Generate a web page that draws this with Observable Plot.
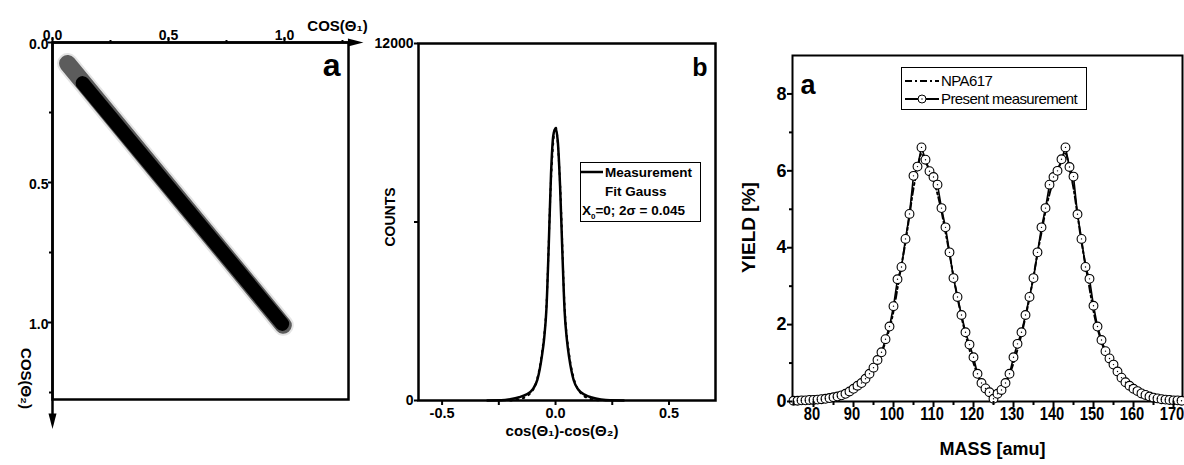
<!DOCTYPE html>
<html><head><meta charset="utf-8">
<script src="https://cdn.jsdelivr.net/npm/d3@7"></script>
<script src="https://cdn.jsdelivr.net/npm/@observablehq/plot@0.6"></script>
<style>
body{margin:0;background:#fff;}
#root{position:relative;width:1184px;height:465px;overflow:hidden;background:#fff;font-family:"Liberation Sans",Arial,sans-serif;}
.panel{position:absolute;top:0;}
.leg{position:absolute;border:1px solid #000;background:#fff;box-sizing:border-box;color:#000;}
.leg span{position:absolute;white-space:nowrap;line-height:1;}
.leg svg{position:absolute;}
</style></head>
<body><div id="root"></div>
<script>
// ---------- Panel a (scatter cos1 vs cos2) ----------
const bandOuterC1 = [0.065, 0.995];
const bandOuterC2 = [0.075, 1.010];
const bandCoreC1 = [0.13, 0.99];
const bandCoreC2 = [0.145, 1.005];
const aTicks = [0, 0.5, 1.0];
const aMinor = [0.25, 0.75, 1.25];
const aAxisEnd = {x: 1.306, y: 1.352};

// ---------- Panel b (difference histogram) ----------
const diffX = [-0.30,-0.24,-0.20,-0.16,-0.13,-0.10,-0.08,-0.06,-0.05,-0.04,-0.03,-0.02,-0.01,0.00,0.01,0.02,0.03,0.04,0.05,0.06,0.08,0.10,0.13,0.16,0.20,0.24,0.30];
const countsMeas = [0,5,40,110,200,380,700,1500,2100,3100,5200,7600,8900,9150,8700,7200,5000,3000,2050,1450,680,370,190,100,35,5,0];
const fitX = [-0.20,-0.15,-0.10,-0.08,-0.06,-0.04,-0.02,0.00,0.02,0.04,0.06,0.08,0.10,0.15,0.20];
const countsFit = [0,60,350,760,1600,3200,7400,9200,7300,3150,1550,760,360,60,0];
const bXTicks = [-0.5, 0, 0.5];
const bXMinor = [-0.25, 0.25];
const bYTicks = [0, 12000];
const bYMinor = [6000];

// ---------- Panel c (mass yield) ----------
const massPresent = [75,76,77,78,79,80,81,82,83,84,85,86,87,88,89,90,91,92,93,94,95,96,97,98,99,100,101,102,103,104,105,106,107,108,109,110,111,112,113,114,115,116,117,118,119,120,121,122,123,124,125,126,127,128,129,130,131,132,133,134,135,136,137,138,139,140,141,142,143,144,145,146,147,148,149,150,151,152,153,154,155,156,157,158,159,160,161,162,163,164,165,166,167,168,169,170,171,172];
const yieldPresent = [0.02,0.02,0.03,0.03,0.04,0.04,0.05,0.06,0.07,0.09,0.11,0.13,0.16,0.20,0.26,0.33,0.41,0.48,0.59,0.72,0.88,1.08,1.28,1.62,1.95,2.48,3.18,3.50,4.23,4.88,5.87,6.11,6.61,6.29,5.99,5.84,5.64,5.03,4.53,3.88,3.21,2.72,2.25,1.80,1.48,1.15,0.72,0.48,0.34,0.24,0.07,0.20,0.30,0.48,0.72,1.15,1.50,1.80,2.25,2.72,3.21,3.88,4.53,5.03,5.64,5.84,6.00,6.30,6.61,6.10,5.85,4.87,4.23,3.50,3.19,2.49,1.95,1.60,1.31,1.12,0.96,0.78,0.62,0.50,0.41,0.33,0.27,0.21,0.17,0.13,0.10,0.08,0.06,0.05,0.04,0.03,0.03,0.02];
const massNPA = [75,80,85,88,90,92,94,96,98,100,101,102,103,104,105,106,107,108,109,110,111,112,113,114,115,116,117,118,119,120,121,122,123,124,125,126,127,128,129,130,131,132,133,134,135,136,137,138,139,140,141,142,143,144,145,146,147,148,149,150,152,154,156,158,160,162,165,170,172];
const yieldNPA = [0.01,0.03,0.09,0.18,0.30,0.47,0.70,1.05,1.55,2.35,2.95,3.55,4.15,4.85,5.55,6.05,6.45,6.25,6.00,5.75,5.40,4.95,4.40,3.85,3.25,2.70,2.20,1.75,1.35,1.00,0.70,0.45,0.30,0.20,0.15,0.20,0.30,0.45,0.70,1.00,1.35,1.75,2.20,2.70,3.25,3.85,4.40,4.95,5.40,5.75,6.00,6.25,6.45,6.05,5.55,4.85,4.15,3.55,2.95,2.35,1.55,1.05,0.70,0.47,0.30,0.18,0.09,0.03,0.01];
const cXTicks = [80,90,100,110,120,130,140,150,160,170];
const cXMinor = [75,85,95,105,115,125,135,145,155,165];
const cYTicks = [0,2,4,6,8];
const cYMinor = [1,3,5,7];

const root = document.getElementById("root");
function place(svg, left){ const d=document.createElement("div"); d.className="panel"; d.style.left=left+"px"; d.appendChild(svg); root.appendChild(d); }

const arrowSym = {draw(ctx){ ctx.moveTo(0,-8); ctx.lineTo(4,7.5); ctx.lineTo(-4,7.5); ctx.closePath(); }};
const fmt1 = d => d.toFixed(1);
const none = () => "";
const baseFont = '"Liberation Sans",Arial,sans-serif';
const B = "bold";
const st = {fontFamily: baseFont, fontSize: "13px", background: "transparent", overflow: "visible", color: "#000"};

// horizontally condense the text elements of a rendered text-mark group
function condense(group, k){
  if (!group) return;
  group.querySelectorAll("text").forEach(t => {
    const tr = t.getAttribute("transform");
    if (tr) { t.setAttribute("transform", tr + ` scale(${k},1)`); }
    else {
      const x = +(t.getAttribute("x") || 0), y = +(t.getAttribute("y") || 0);
      t.removeAttribute("x"); t.removeAttribute("y");
      t.setAttribute("transform", `translate(${x},${y}) scale(${k},1)`);
    }
  });
}

// ---- Panel a
const outerA = bandOuterC1.map((c,i)=>({c1:c, c2:bandOuterC2[i]}));
const coreA = bandCoreC1.map((c,i)=>({c1:c, c2:bandCoreC2[i]}));
const svgA = Plot.plot({
  width: 375, height: 465, marginLeft: 52, marginRight: 27, marginTop: 42, marginBottom: 66,
  style: st,
  x: {domain: [0, 1.276]},
  y: {domain: [0, 1.275], reverse: true},
  marks: [
    Plot.line(outerA, {x:"c1", y:"c2", stroke:"#777", strokeWidth:21, strokeOpacity:0.2, strokeLinecap:"round"}),
    Plot.line(outerA, {x:"c1", y:"c2", stroke:"#222", strokeWidth:17, strokeOpacity:0.7, strokeLinecap:"round"}),
    Plot.line(coreA, {x:"c1", y:"c2", stroke:"#000", strokeWidth:14, strokeLinecap:"round"}),
    Plot.frame({strokeWidth: 2.5}),
    Plot.ruleY([0], {x1: 0, x2: aAxisEnd.x, strokeWidth: 2.5}),
    Plot.ruleX([0], {y1: 0, y2: aAxisEnd.y, strokeWidth: 2.5}),
    Plot.dot([aAxisEnd], {x: "x", y: () => 0, symbol: arrowSym, rotate: 90, fill: "#000", stroke: null}),
    Plot.dot([aAxisEnd], {x: () => 0, y: "y", symbol: arrowSym, rotate: 180, fill: "#000", stroke: null}),
    Plot.axisX({anchor: "top", ticks: aTicks, tickFormat: none, tickSize: 6, strokeWidth: 2, label: null}),
    Plot.axisX({anchor: "top", ticks: aMinor, tickFormat: none, tickSize: 3, strokeWidth: 2, label: null}),
    Plot.axisY({anchor: "left", ticks: aTicks, tickFormat: none, tickSize: 4, strokeWidth: 2, label: null}),
    Plot.axisY({anchor: "left", ticks: aMinor, tickFormat: none, tickSize: 3, strokeWidth: 2, label: null}),
    Plot.text(aTicks, {x: d => d, frameAnchor: "top", dy: -12, text: fmt1, fontSize: 14, fontWeight: B}),
    Plot.text(aTicks, {y: d => d, frameAnchor: "left", textAnchor: "end", dx: -4, dy: 2, text: fmt1, fontSize: 14, fontWeight: B}),
    Plot.text(["COS(Θ₁)"], {frameAnchor: "top-right", textAnchor: "middle", text: d => d, dx: -11, dy: -22, fontSize: 15, fontWeight: B}),
    Plot.text(["COS(Θ₂)"], {frameAnchor: "bottom-left", textAnchor: "middle", text: d => d, dx: -32, dy: -21, rotate: 90, fontSize: 15, fontWeight: B}),
    Plot.text(["a"], {frameAnchor: "top-right", text: d => d, dx: -8, dy: 11, fontSize: 32, fontWeight: B})
  ]
});

// ---- Panel b
const measB = diffX.map((x,i)=>({x, y: countsMeas[i]}));
const fitB = fitX.map((x,i)=>({x, y: countsFit[i]}));
const svgB = Plot.plot({
  width: 370, height: 465, marginLeft: 58, marginRight: 15, marginTop: 43, marginBottom: 65,
  style: st,
  x: {domain: [-0.604, 0.705]},
  y: {domain: [0, 12000]},
  marks: [
    Plot.line(fitB, {x:"x", y:"y", stroke:"#000", strokeWidth:2, strokeDasharray:"1.5,5", curve:"monotone-x"}),
    Plot.line(measB, {x:"x", y:"y", stroke:"#000", strokeWidth:2.5, curve:"monotone-x"}),
    Plot.frame({strokeWidth: 2.5}),
    Plot.axisY({anchor:"left", ticks: bYTicks, tickFormat: none, tickSize: 4, strokeWidth: 2, label: null}),
    Plot.axisY({anchor:"left", ticks: bYMinor, tickFormat: none, tickSize: 4, strokeWidth: 2, label: null}),
    Plot.axisX({anchor:"bottom", ticks: bXTicks, tickFormat: none, tickSize: 5, strokeWidth: 2, label: null}),
    Plot.axisX({anchor:"bottom", ticks: bXMinor, tickFormat: none, tickSize: 5, strokeWidth: 2, label: null}),
    Plot.text(bYTicks, {y: d => d, frameAnchor: "left", textAnchor: "end", dx: -5, text: d => String(d), fontSize: 14, fontWeight: B}),
    Plot.text(bXTicks, {x: d => d, frameAnchor: "bottom", dy: 17, text: fmt1, fontSize: 14.5, fontWeight: B}),
    Plot.text(["cos(Θ₁)-cos(Θ₂)"], {frameAnchor: "bottom", text: d => d, dx: -5, dy: 35, fontSize: 15, fontWeight: B}),
    Plot.text(["COUNTS"], {frameAnchor: "left", textAnchor: "middle", text: d => d, dx: -28, dy: -5, rotate: -90, fontSize: 14, fontWeight: B}),
    Plot.text(["b"], {frameAnchor: "top-right", text: d => d, dx: -8, dy: 15, fontSize: 25, fontWeight: B})
  ]
});

// ---- Panel c
const presC = massPresent.map((m,i)=>({m, y: yieldPresent[i]}));
const npaC = massNPA.map((m,i)=>({m, y: yieldNPA[i]}));
const svgC = Plot.plot({
  width: 444, height: 465, marginLeft: 52, marginRight: 2, marginTop: 55, marginBottom: 64,
  style: st,
  x: {domain: [74.75, 172.25]},
  y: {domain: [0, 9]},
  marks: [
    Plot.frame({strokeWidth: 2}),
    Plot.line(npaC, {x:"m", y:"y", stroke:"#000", strokeWidth:2, strokeDasharray:"7,3,2,3", curve:"monotone-x"}),
    Plot.line(presC, {x:"m", y:"y", stroke:"#000", strokeWidth:1.6}),
    Plot.dot(presC, {x:"m", y:"y", r:4.4, fill:"#fff", stroke:"#000", strokeWidth:1.1}),
    Plot.dot(presC, {x:"m", y:"y", r:0.7, fill:"#000", stroke:null}),
    Plot.axisY({anchor:"left", ticks: cYTicks, tickFormat: none, tickSize: 5, strokeWidth: 2, label: null}),
    Plot.axisY({anchor:"left", ticks: cYMinor, tickFormat: none, tickSize: 3, strokeWidth: 2, label: null}),
    Plot.axisX({anchor:"bottom", ticks: cXTicks, tickFormat: none, tickSize: 6, strokeWidth: 2, label: null}),
    Plot.axisX({anchor:"bottom", ticks: cXMinor, tickFormat: none, tickSize: 4, strokeWidth: 2, label: null}),
    Plot.text(cYTicks, {y: d => d, frameAnchor: "left", textAnchor: "end", dx: -6, text: d => String(d), fontSize: 18, fontWeight: B}),
    Plot.text(cXTicks, {x: d => d, frameAnchor: "bottom", dy: 18, dx: -1.5, text: d => String(d), fontSize: 17.5, fontWeight: B}),
    Plot.text(["MASS [amu]"], {frameAnchor: "bottom", text: d => d, dx: 5, dy: 53, fontSize: 18, fontWeight: B, letterSpacing: "-0.6px"}),
    Plot.text(["YIELD [%]"], {frameAnchor: "left", textAnchor: "middle", text: d => d, dx: -44, dy: -1, rotate: -90, fontSize: 19, fontWeight: B}),
    Plot.text(["a"], {frameAnchor: "top-left", text: d => d, dx: 8, dy: 19, fontSize: 27, fontWeight: B})
  ]
});
// condense the mass tick labels (second text mark of panel c)
condense(svgC.querySelectorAll('g[aria-label="text"]')[1], 0.84);

place(svgA, 0);
place(svgB, 360);
place(svgC, 740);

// ---- Legends
const legB = document.createElement("div");
legB.className = "leg";
Object.assign(legB.style, {left:"580px", top:"162px", width:"121px", height:"60px", fontWeight:"bold", fontSize:"13.5px"});
legB.innerHTML = `
  <svg style="left:0;top:3px" width="24" height="12"><line x1="0" x2="22" y1="6" y2="6" stroke="#000" stroke-width="2.5"/></svg>
  <span style="left:24px;top:3px">Measurement</span>
  <span style="left:24px;top:22px">Fit Gauss</span>
  <span style="left:1px;top:41px">X<sub style="font-size:8px">0</sub>=0; 2σ = 0.045</span>`;
root.appendChild(legB);

const legC = document.createElement("div");
legC.className = "leg";
Object.assign(legC.style, {left:"901px", top:"67px", width:"186px", height:"43px", fontSize:"15px", letterSpacing:"-0.6px"});
legC.innerHTML = `
  <svg style="left:2px;top:7px" width="36" height="12"><line x1="1" x2="35" y1="6" y2="6" stroke="#000" stroke-width="2" stroke-dasharray="7,3,2,3"/></svg>
  <span style="left:39px;top:5px">NPA617</span>
  <svg style="left:2px;top:25px" width="36" height="12"><line x1="1" x2="35" y1="6" y2="6" stroke="#000" stroke-width="2"/><circle cx="18" cy="6" r="4" fill="#fff" stroke="#000" stroke-width="1"/><circle cx="18" cy="6" r="0.7" fill="#000"/></svg>
  <span style="left:39px;top:23px">Present measurement</span>`;
root.appendChild(legC);
</script>
</body></html>
